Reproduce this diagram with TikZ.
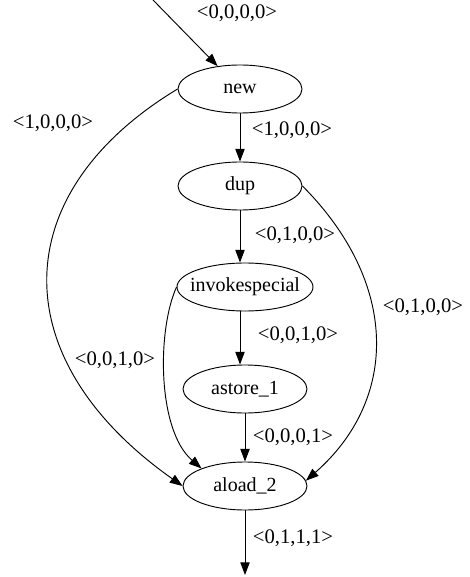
\documentclass[tikz,border=0pt]{standalone}
\usepackage{fontspec}
\setmainfont{Liberation Serif}
\usetikzlibrary{arrows.meta,shapes.geometric}
\begin{document}
\begin{tikzpicture}[x=0.75pt,y=-0.75pt,
  state/.style={ellipse,draw,line width=0.7pt,inner sep=0pt,minimum height=36pt,minimum width=93pt,font=\fontsize{15}{17}\selectfont},
  lbl/.style={inner sep=0pt,font=\fontsize{15.5}{17}\selectfont},
  edge/.style={line width=0.7pt,-{Triangle[length=9.5pt,width=7pt]}}]
\useasboundingbox (0,0) rectangle (469,577);
\node[state] (new) at (240,89) {new};
\node[state] (dup) at (240,186) {dup};
\node[state,minimum width=102pt,inner xsep=-6pt] (inv) at (245,287) {invokespecial};
\node[state] (ast) at (245,389) {astore\_1};
\node[state] (alo) at (245,486) {aload\_2};
\coordinate (start) at (153,0);
\coordinate (fin) at (245,575);
\node[lbl] (l0) at (237,13) {<0,0,0,0>};
\node[lbl] (l1) at (292,130) {<1,0,0,0>};
\node[lbl] (l2) at (53,123) {<1,0,0,0>};
\node[lbl] (l3) at (295,235) {<0,1,0,0>};
\node[lbl] (l4) at (423,307) {<0,1,0,0>};
\node[lbl] (l5) at (298,335) {<0,0,1,0>};
\node[lbl] (l6) at (115,360) {<0,0,1,0>};
\node[lbl] (l7) at (293,437) {<0,0,0,1>};
\node[lbl] (l8) at (293,538) {<0,1,1,1>};
\draw[edge] (start) -- (new);
\draw[edge] (new) -- (dup);
\draw[edge] (dup.south) -- (dup.south |- inv.north);
\draw[edge] (inv.south -| dup.south) -- (ast.north -| dup.south);
\draw[edge] (ast) -- (alo);
\draw[edge] (alo) -- (fin);
\draw[edge] (new.west) .. controls (4,194) and (4,360) .. (alo.180);
\draw[edge] (dup.east) .. controls (399,283) and (399,399) .. (alo.5);
\draw[edge] (inv.west) .. controls (157,330) and (157,430) .. (alo.158);
\end{tikzpicture}
\end{document}
